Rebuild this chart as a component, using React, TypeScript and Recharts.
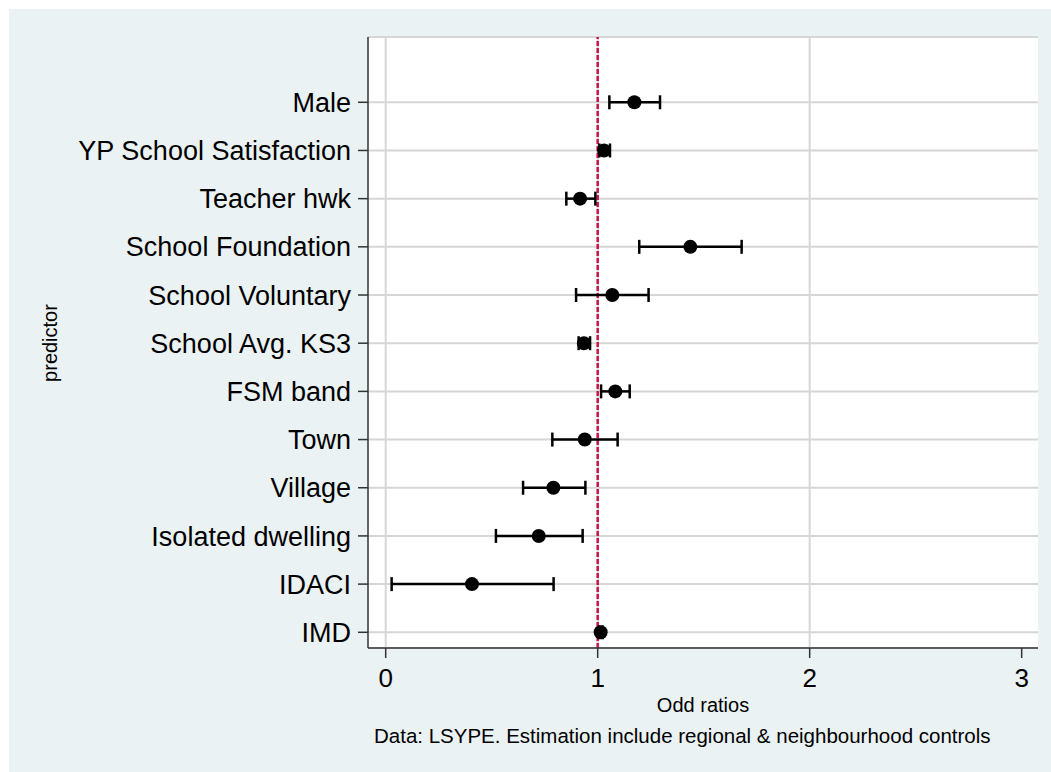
import React from "react";
import {
  CartesianGrid,
  ErrorBar,
  ReferenceLine,
  Scatter,
  ScatterChart,
  XAxis,
  YAxis,
} from "recharts";

const predictors = [
  "Male",
  "YP School Satisfaction",
  "Teacher hwk",
  "School Foundation",
  "School Voluntary",
  "School Avg. KS3",
  "FSM band",
  "Town",
  "Village",
  "Isolated dwelling",
  "IDACI",
  "IMD",
];
const oddRatios = [1.173, 1.03, 0.917, 1.437, 1.069, 0.935, 1.083, 0.939, 0.791, 0.722, 0.407, 1.014];
const lowerCI = [1.055, 1.008, 0.852, 1.196, 0.898, 0.91, 1.016, 0.786, 0.648, 0.52, 0.028, 1.005];
const upperCI = [1.294, 1.058, 0.989, 1.679, 1.24, 0.964, 1.151, 1.094, 0.942, 0.929, 0.792, 1.023];
const xTicks = [0, 1, 2, 3];
const xGridValues = [0, 1, 2];

const font = "'Liberation Sans', Arial, Helvetica, sans-serif";
const n = predictors.length;

// row position: first predictor at the top
const data = predictors.map((name, i) => ({
  name,
  y: n - i,
  x: oddRatios[i],
  err: [oddRatios[i] - lowerCI[i], upperCI[i] - oddRatios[i]],
}));
const yTicks = data.map((d) => d.y);

const Dot = (p: any) => <circle cx={p.cx} cy={p.cy} r={7} fill="#000" />;

export default function App() {
  return (
    <div
      style={{
        position: "absolute",
        left: 9,
        top: 9,
        width: 1042,
        height: 763,
        background: "#eaf2f3",
        fontFamily: font,
      }}
    >
      <ScatterChart width={1042} height={763} margin={{ top: 28, right: 13, bottom: 0, left: 0 }}>
        <CartesianGrid fill="#ffffff" stroke="#d6d6d6" strokeWidth={2} vertical={false} />
        {xGridValues.map((v) => (
          <ReferenceLine key={v} x={v} stroke="#d6d6d6" strokeWidth={2} />
        ))}
        <XAxis
          type="number"
          dataKey="x"
          height={124}
          domain={[-0.0835, 3.077]}
          ticks={xTicks}
          allowDataOverflow
          tickSize={10}
          tickMargin={11}
          stroke="#333"
          axisLine={{ stroke: "#333", strokeWidth: 1.5 }}
          tickLine={{ stroke: "#333", strokeWidth: 1.5 }}
          tick={{ fontSize: 26, fill: "#000", fontFamily: font }}
          label={{
            content: () => (
              <g>
                <text x={694} y={703} textAnchor="middle" fontSize={20} fill="#000" fontFamily={font}>
                  Odd ratios
                </text>
                <text x={365} y={734} textAnchor="start" fontSize={20.5} fill="#000" fontFamily={font}>
                  Data: LSYPE. Estimation include regional &amp; neighbourhood controls
                </text>
              </g>
            ),
          }}
        />
        <YAxis
          type="number"
          dataKey="y"
          width={359}
          domain={[0.674, 13.355]}
          ticks={yTicks}
          allowDataOverflow
          tickSize={10}
          tickMargin={7}
          stroke="#333"
          axisLine={{ stroke: "#333", strokeWidth: 1.5 }}
          tickLine={{ stroke: "#333", strokeWidth: 1.5 }}
          tick={{ fontSize: 27, fill: "#000", fontFamily: font }}
          tickFormatter={(v: number) => predictors[n - v]}
          label={{
            content: () => (
              <text
                x={48}
                y={334}
                transform="rotate(-90 48 334)"
                textAnchor="middle"
                fontSize={20}
                fill="#000"
                fontFamily={font}
              >
                predictor
              </text>
            ),
          }}
        />
        <ReferenceLine x={1} stroke="#cc1444" strokeWidth={2.5} strokeDasharray="5 2" />
        <Scatter data={data} shape={Dot} isAnimationActive={false}>
          <ErrorBar dataKey="err" direction="x" width={7} stroke="#000" strokeWidth={2.5} isAnimationActive={false} />
        </Scatter>
      </ScatterChart>
    </div>
  );
}
